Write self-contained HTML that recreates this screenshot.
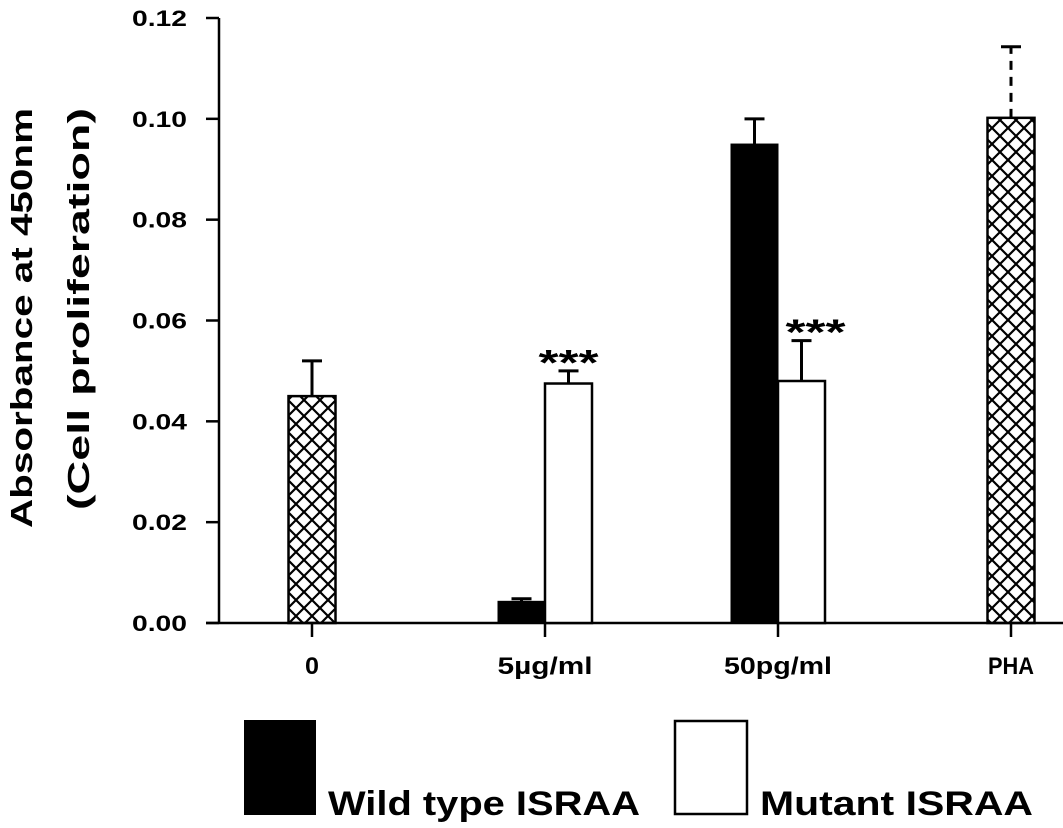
<!DOCTYPE html>
<html><head><meta charset="utf-8"><style>
html,body{margin:0;padding:0;background:#fff;}
svg{display:block;font-family:"Liberation Sans",sans-serif;font-weight:bold;}
</style></head><body>
<svg width="1063" height="828" viewBox="0 0 1063 828" xmlns="http://www.w3.org/2000/svg">
<defs>
<pattern id="hatch" patternUnits="userSpaceOnUse" width="16" height="16">
<path d="M0,0 L16,16 M16,0 L0,16" stroke="#000" stroke-width="2.2"/>
</pattern>
</defs>
<g id="axes"></g>
<g id="marks"></g>
<text transform="translate(32,318) rotate(-90)" text-anchor="middle" font-size="31" textLength="420" lengthAdjust="spacingAndGlyphs">Absorbance at 450nm</text>
<text transform="translate(89,309) rotate(-90)" text-anchor="middle" font-size="31" textLength="402" lengthAdjust="spacingAndGlyphs">(Cell proliferation)</text>
<g>
<rect x="244" y="720" width="72" height="95" fill="#000"/>
<text x="328" y="815" font-size="34" textLength="312" lengthAdjust="spacingAndGlyphs">Wild type ISRAA</text>
<rect x="675" y="721" width="72" height="93" fill="#fff" stroke="#000" stroke-width="2.5"/>
<text x="760" y="815" font-size="34" textLength="273" lengthAdjust="spacingAndGlyphs">Mutant ISRAA</text>
</g>
</svg>
<script>
const categories = ["0", "5\u00b5g/ml", "50pg/ml", "PHA"];
const controlValues = [0.045, null, null, 0.1002];
const controlErrors = [0.052, null, null, 0.1143];
const wildValues = [null, 0.0043, 0.095, null];
const wildErrors = [null, 0.0048, 0.100, null];
const mutantValues = [null, 0.0475, 0.048, null];
const mutantErrors = [null, 0.050, 0.056, null];
const significance = [null, "***", "***", null];
const yTicks = [0, 0.02, 0.04, 0.06, 0.08, 0.10, 0.12];

const NS = "http://www.w3.org/2000/svg";
const x0 = 219, groupStart = 312, groupStep = 233, y0 = 623, yTop = 18, yMax = 0.12;
const barW = 47;
function yScale(v){ return y0 - (v / yMax) * (y0 - yTop); }
function xScale(i){ return groupStart + i * groupStep; }
function mk(tag, attrs, parent){ const e = document.createElementNS(NS, tag); for (const k in attrs) e.setAttribute(k, attrs[k]); parent.appendChild(e); return e; }
const axes = document.getElementById('axes');
const marks = document.getElementById('marks');

const yAxis = mk('line', {x1:x0, y1:yTop, x2:x0, y2:y0, stroke:'#000', 'stroke-width':2.5}, axes);


const xAxis = mk('line', {x1:x0-13, y1:y0, x2:1063, y2:y0, stroke:'#000', 'stroke-width':2.5}, axes);



yTicks.forEach(t => {
  const y = yScale(t);
  const tk = mk('line', {x1:x0-13, y1:y, x2:x0, y2:y, stroke:'#000', 'stroke-width':2.5}, axes);
  
  
  const lb = mk('text', {x:187, y:y+8, 'text-anchor':'end', 'font-size':22, textLength:55, lengthAdjust:'spacingAndGlyphs'}, axes);
  lb.textContent = t.toFixed(2);
  
  
});

const xLabelWidths = [14, 95, 108, 46];
categories.forEach((c, i) => {
  const cx = xScale(i);
  const tk = mk('line', {x1:cx, y1:y0, x2:cx, y2:y0+14, stroke:'#000', 'stroke-width':2.5}, axes);
  
  
  const lb = mk('text', {x:cx, y:y0+51, 'text-anchor':'middle', 'font-size':24, textLength:xLabelWidths[i], lengthAdjust:'spacingAndGlyphs'}, axes);
  lb.textContent = c;
  
  
});

function errBar(cx, v, e, dashed){
  const l = mk('line', {x1:cx, y1:yScale(v), x2:cx, y2:yScale(e), stroke:'#000', 'stroke-width':3}, marks);
  if (dashed) l.setAttribute('stroke-dasharray', '9,7');
  
  
  const cap = mk('line', {x1:cx-10, y1:yScale(e), x2:cx+10, y2:yScale(e), stroke:'#000', 'stroke-width':3}, marks);
  
  
}

categories.forEach((c, i) => {
  const cx = xScale(i);
  if (controlValues[i] !== null) {
    const v = controlValues[i];
    errBar(cx, v, controlErrors[i], i === 3);
    const r = mk('rect', {x:cx-barW/2, y:yScale(v), width:barW, height:y0-yScale(v), fill:'url(#hatch)', stroke:'#000', 'stroke-width':2.5}, marks);
    
    
  }
  if (wildValues[i] !== null) {
    const v = wildValues[i];
    errBar(cx-barW/2, v, wildErrors[i], false);
    const r = mk('rect', {x:cx-barW, y:yScale(v), width:barW, height:y0-yScale(v), fill:'#000', stroke:'#000', 'stroke-width':1}, marks);
    
    
  }
  if (mutantValues[i] !== null) {
    const v = mutantValues[i];
    errBar(cx+barW/2, v, mutantErrors[i], false);
    const r = mk('rect', {x:cx, y:yScale(v), width:barW, height:y0-yScale(v), fill:'#fff', stroke:'#000', 'stroke-width':2.5}, marks);
    
    
  }
  if (significance[i]) {
    const off = i === 2 ? 14 : 0;
    const s = mk('text', {x:cx+barW/2+off, y:yScale(mutantErrors[i])+4, 'text-anchor':'middle', 'font-size':36, textLength:60, lengthAdjust:'spacingAndGlyphs'}, marks);
    s.textContent = significance[i];
    
    
  }
});
</script>
</body></html>
